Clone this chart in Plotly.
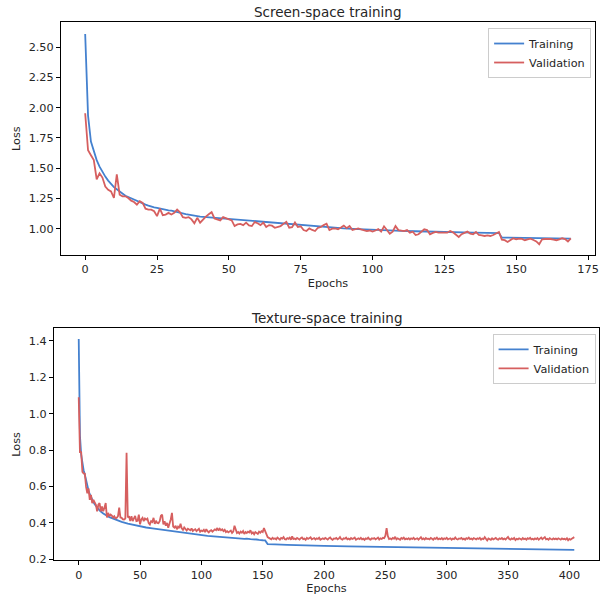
import plotly.graph_objects as go

# ---------------- Data: Screen-space training ----------------
screen_train_epochs = list(range(0, 31)) + [35, 40, 45, 50, 55, 60, 65, 70, 75, 80, 85, 90, 95,
                                            100, 105, 110, 115, 120, 125, 130, 135, 140, 144,
                                            145, 150, 155, 160, 165, 169]
screen_train_loss = [2.610, 1.935, 1.720, 1.636, 1.567, 1.513, 1.466, 1.431, 1.398, 1.368,
                     1.344, 1.327, 1.308, 1.289, 1.273, 1.262, 1.251, 1.237, 1.227, 1.215,
                     1.207, 1.199, 1.191, 1.182, 1.177, 1.172, 1.166, 1.160, 1.155, 1.152,
                     1.150,
                     1.120, 1.100, 1.090, 1.078, 1.068, 1.057, 1.047, 1.038, 1.028, 1.018,
                     1.010, 1.003, 0.996, 0.990, 0.986, 0.982, 0.979, 0.975, 0.973, 0.970,
                     0.968, 0.966, 0.964, 0.927, 0.924, 0.923, 0.921, 0.919, 0.918]

screen_val_loss = [
    1.955, 1.649, 1.608, 1.567, 1.409, 1.458, 1.423, 1.349, 1.322, 1.308,
    1.254, 1.450, 1.281, 1.268, 1.268, 1.254, 1.232, 1.221, 1.199, 1.227,
    1.213, 1.166, 1.158, 1.158, 1.145, 1.104, 1.166, 1.112, 1.117, 1.131,
    1.117, 1.131, 1.158, 1.135, 1.095, 1.090, 1.096, 1.077, 1.045, 1.090,
    1.050, 1.077, 1.100, 1.120, 1.137, 1.085, 1.075, 1.069, 1.096, 1.088,
    1.082, 1.069, 1.022, 1.036, 1.040, 1.030, 1.050, 1.027, 1.022, 1.055,
    1.045, 1.030, 1.050, 1.014, 1.030, 1.025, 1.008, 1.015, 1.022, 1.040,
    1.057, 1.008, 1.013, 1.052, 1.014, 1.020, 0.989, 0.981, 1.003, 0.990,
    0.981, 1.008, 1.014, 1.030, 1.041, 0.989, 1.000, 1.003, 0.995, 1.010,
    1.026, 1.005, 1.022, 0.989, 0.995, 1.003, 0.995, 0.990, 0.981, 0.985,
    0.976, 0.985, 0.997, 0.976, 1.020, 0.990, 0.959, 0.975, 1.022, 0.989,
    0.985, 0.981, 0.989, 0.967, 0.975, 0.948, 0.954, 0.975, 0.995, 0.989,
    0.954, 0.965, 0.973, 0.968, 0.965, 0.967, 0.967, 0.981, 0.970, 0.948,
    0.932, 0.955, 0.967, 0.976, 0.960, 0.954, 0.973, 0.948, 0.945, 0.940,
    0.945, 0.940, 0.948, 0.960, 0.973, 0.910, 0.905, 0.891, 0.905, 0.921,
    0.913, 0.918, 0.916, 0.905, 0.912, 0.918, 0.907, 0.895, 0.872, 0.913,
    0.915, 0.918, 0.915, 0.910, 0.905, 0.912, 0.921, 0.915, 0.894, 0.921,
]
screen_val_epochs = list(range(len(screen_val_loss)))

# ---------------- Data: Texture-space training ----------------
texture_train_epochs = list(range(0, 21)) + [25, 30, 35, 40, 45, 50, 55, 60, 65, 70, 75, 80, 85,
                                             90, 95, 100, 105, 110, 115, 120, 125, 130, 135, 137,
                                             138, 140, 145, 146, 147, 150, 152, 154, 155, 160, 170,
                                             180, 190, 200, 220, 240, 260, 280, 300, 320, 340,
                                             360, 380, 404]
texture_train_loss = [1.410, 0.880, 0.775, 0.720, 0.690, 0.665, 0.630, 0.600, 0.578, 0.558,
                      0.540, 0.527, 0.514, 0.503, 0.493, 0.484, 0.476, 0.469, 0.463, 0.457,
                      0.452,
                      0.432, 0.417, 0.406, 0.396, 0.388, 0.381, 0.375, 0.370, 0.365, 0.360,
                      0.356, 0.351, 0.346, 0.341, 0.337, 0.332, 0.329, 0.326, 0.323, 0.320,
                      0.318, 0.316, 0.313, 0.314, 0.312, 0.311, 0.309, 0.310, 0.307, 0.305,
                      0.304, 0.284, 0.283, 0.282, 0.280, 0.277, 0.275, 0.274, 0.271, 0.269,
                      0.267, 0.265, 0.263, 0.261, 0.259, 0.257, 0.255, 0.2525]

texture_val_loss = [
    1.090, 0.789, 0.789, 0.680, 0.672, 0.670, 0.598, 0.563, 0.590, 0.527,
    0.554, 0.509, 0.527, 0.510, 0.500, 0.464, 0.500, 0.509, 0.464, 0.490,
    0.464, 0.485, 0.509, 0.430, 0.455, 0.437, 0.446, 0.440, 0.430, 0.437,
    0.425, 0.428, 0.437, 0.484, 0.430, 0.428, 0.420, 0.419, 0.424, 0.785,
    0.430, 0.437, 0.410, 0.437, 0.410, 0.425, 0.438, 0.410, 0.412, 0.446,
    0.392, 0.420, 0.428, 0.410, 0.424, 0.418, 0.424, 0.400, 0.392, 0.410,
    0.405, 0.428, 0.395, 0.412, 0.400, 0.398, 0.410, 0.440, 0.446, 0.392,
    0.410, 0.385, 0.400, 0.374, 0.395, 0.419, 0.455, 0.380, 0.374, 0.385,
    0.365, 0.380, 0.372, 0.396, 0.370, 0.362, 0.375, 0.365, 0.358, 0.368,
    0.364, 0.360, 0.370, 0.356, 0.362, 0.366, 0.355, 0.360, 0.368, 0.352,
    0.358, 0.355, 0.362, 0.350, 0.366, 0.355, 0.348, 0.356, 0.360, 0.352,
    0.358, 0.365, 0.360, 0.372, 0.358, 0.368, 0.360, 0.365, 0.355, 0.362,
    0.350, 0.355, 0.348, 0.352, 0.358, 0.345, 0.352, 0.385, 0.358, 0.345,
    0.350, 0.342, 0.352, 0.346, 0.355, 0.340, 0.350, 0.345, 0.352, 0.348,
    0.360, 0.342, 0.348, 0.338, 0.350, 0.345, 0.340, 0.352, 0.346, 0.355,
    0.350, 0.372, 0.356, 0.340, 0.322, 0.318, 0.315, 0.310, 0.318, 0.312,
    0.316, 0.310, 0.320, 0.312, 0.308, 0.318, 0.314, 0.322, 0.311, 0.309,
    0.317, 0.313, 0.319, 0.308, 0.326, 0.312, 0.315, 0.310, 0.318, 0.313,
    0.309, 0.316, 0.320, 0.311, 0.314, 0.307, 0.318, 0.312, 0.315, 0.321,
    0.310, 0.313, 0.317, 0.309, 0.315, 0.312, 0.319, 0.308, 0.314, 0.316,
    0.311, 0.318, 0.313, 0.309, 0.316, 0.320, 0.312, 0.307, 0.315, 0.313,
    0.318, 0.310, 0.314, 0.322, 0.311, 0.308, 0.316, 0.313, 0.319, 0.310,
    0.314, 0.309, 0.317, 0.312, 0.315, 0.320, 0.308, 0.313, 0.316, 0.311,
    0.318, 0.310, 0.314, 0.307, 0.315, 0.312, 0.319, 0.311, 0.308, 0.316,
    0.313, 0.317, 0.310, 0.314, 0.320, 0.309, 0.315, 0.312, 0.318, 0.316,
    0.330, 0.372, 0.328, 0.312, 0.315, 0.310, 0.318, 0.313, 0.324, 0.310,
    0.316, 0.312, 0.308, 0.317, 0.313, 0.319, 0.310, 0.314, 0.311, 0.316,
    0.309, 0.315, 0.312, 0.318, 0.310, 0.313, 0.316, 0.308, 0.314, 0.322,
    0.311, 0.315, 0.309, 0.317, 0.312, 0.314, 0.310, 0.318, 0.313, 0.308,
    0.316, 0.312, 0.319, 0.310, 0.314, 0.311, 0.317, 0.309, 0.315, 0.312,
    0.318, 0.310, 0.313, 0.316, 0.308, 0.314, 0.311, 0.320, 0.312, 0.309,
    0.315, 0.313, 0.318, 0.310, 0.314, 0.308, 0.316, 0.312, 0.319, 0.311,
    0.314, 0.309, 0.317, 0.313, 0.310, 0.316, 0.312, 0.318, 0.308, 0.314,
    0.311, 0.322, 0.309, 0.304, 0.315, 0.312, 0.307, 0.316, 0.310, 0.313,
    0.318, 0.311, 0.308, 0.315, 0.312, 0.317, 0.310, 0.314, 0.309, 0.316,
    0.323, 0.312, 0.308, 0.315, 0.311, 0.318, 0.306, 0.313, 0.310, 0.316,
    0.312, 0.309, 0.317, 0.311, 0.314, 0.308, 0.316, 0.312, 0.318, 0.310,
    0.313, 0.309, 0.315, 0.311, 0.317, 0.308, 0.314, 0.320, 0.311, 0.315,
    0.322, 0.310, 0.313, 0.308, 0.316, 0.312, 0.309, 0.315, 0.311, 0.314,
    0.310, 0.316, 0.312, 0.308, 0.315, 0.311, 0.313, 0.309, 0.316, 0.305,
    0.312, 0.308, 0.314, 0.318, 0.322,
]
texture_val_epochs = list(range(len(texture_val_loss)))

series_names = ["Training", "Validation"]
titles = ["Screen-space training", "Texture-space training"]
screen_yticks = [1.00, 1.25, 1.50, 1.75, 2.00, 2.25, 2.50]
screen_xticks = [0, 25, 50, 75, 100, 125, 150, 175]
texture_yticks = [0.2, 0.4, 0.6, 0.8, 1.0, 1.2, 1.4]
texture_xticks = [0, 50, 100, 150, 200, 250, 300, 350, 400]

# ---------------- Styling ----------------
W, H = 612, 601
BLUE = "#4481cf"
RED = "#d65f5f"
FONT = "DejaVu Sans"
FS = 11.25
TXT = "#262626"
LW = 1.8

fig = go.Figure()

fig.add_trace(go.Scatter(x=screen_train_epochs, y=screen_train_loss, mode="lines",
                         name=series_names[0], line=dict(color=BLUE, width=LW),
                         xaxis="x", yaxis="y", legend="legend"))
fig.add_trace(go.Scatter(x=screen_val_epochs, y=screen_val_loss, mode="lines",
                         name=series_names[1], line=dict(color=RED, width=LW),
                         xaxis="x", yaxis="y", legend="legend"))
fig.add_trace(go.Scatter(x=texture_train_epochs, y=texture_train_loss, mode="lines",
                         name=series_names[0], line=dict(color=BLUE, width=LW),
                         xaxis="x2", yaxis="y2", legend="legend2"))
fig.add_trace(go.Scatter(x=texture_val_epochs, y=texture_val_loss, mode="lines",
                         name=series_names[1], line=dict(color=RED, width=LW),
                         xaxis="x2", yaxis="y2", legend="legend2"))

def px_x(p):
    return p / W

def px_y(p):
    return 1 - p / H

axis_common = dict(showgrid=False, zeroline=False, showline=True, mirror=True,
                   linecolor="black", linewidth=0.9, ticks="outside", ticklen=4,
                   tickwidth=0.9, tickcolor="black",
                   tickfont=dict(family=FONT, size=FS, color=TXT))

title_font = dict(family=FONT, size=FS, color=TXT)

fig.update_layout(
    width=W, height=H, autosize=False,
    margin=dict(l=0, r=0, t=0, b=0),
    paper_bgcolor="white", plot_bgcolor="white",
    font=dict(family=FONT, size=FS, color=TXT),
    xaxis=dict(domain=[px_x(61.3), px_x(599)], range=[-8.45, 177.45], anchor="y",
               tickvals=screen_xticks, ticktext=[str(v) for v in screen_xticks],
               title=dict(text="Epochs", font=title_font, standoff=3), **axis_common),
    yaxis=dict(domain=[px_y(257.3), px_y(22.7)], range=[0.785, 2.705], anchor="x",
               tickvals=screen_yticks, ticktext=[f"{v:.2f}" for v in screen_yticks],
               title=dict(text="Loss", font=title_font, standoff=5), **axis_common),
    xaxis2=dict(domain=[px_x(54.3), px_x(603)], range=[-20.2, 424.2], anchor="y2",
                tickvals=texture_xticks, ticktext=[str(v) for v in texture_xticks],
                title=dict(text="Epochs", font=title_font, standoff=3), **axis_common),
    yaxis2=dict(domain=[px_y(566), px_y(331.7)], range=[0.1946, 1.4685], anchor="x2",
                tickvals=texture_yticks, ticktext=[f"{v:.1f}" for v in texture_yticks],
                title=dict(text="Loss", font=title_font, standoff=5), **axis_common),
    legend=dict(x=px_x(595), y=px_y(28.3), xanchor="right", yanchor="top",
                bgcolor="rgba(255,255,255,0.8)", bordercolor="#cccccc", borderwidth=1,
                font=dict(family=FONT, size=FS, color=TXT), tracegroupgap=0,
                itemwidth=30),
    legend2=dict(x=px_x(599.5), y=px_y(337.3), xanchor="right", yanchor="top",
                 bgcolor="rgba(255,255,255,0.8)", bordercolor="#cccccc", borderwidth=1,
                 font=dict(family=FONT, size=FS, color=TXT), tracegroupgap=0,
                 itemwidth=30),
    annotations=[
        dict(text=titles[0], x=(px_x(61.3) + px_x(599)) / 2, y=px_y(12), xref="paper",
             yref="paper", xanchor="center", yanchor="middle", showarrow=False,
             font=dict(family=FONT, size=13.5, color=TXT)),
        dict(text=titles[1], x=(px_x(54.3) + px_x(603)) / 2, y=px_y(321), xref="paper",
             yref="paper", xanchor="center", yanchor="middle", showarrow=False,
             font=dict(family=FONT, size=13.5, color=TXT)),
    ],
)

fig.write_html("out.html",
               config={"displayModeBar": False},
               post_script="document.body.style.margin='0';document.body.style.overflow='hidden';")
